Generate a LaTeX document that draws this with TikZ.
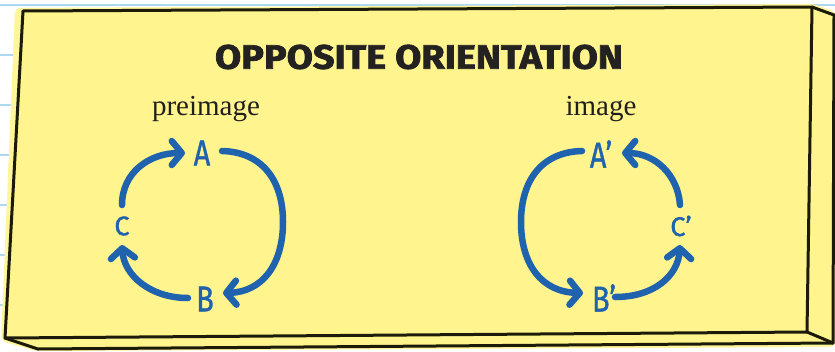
\documentclass[tikz,border=0pt]{standalone}
\usepackage{fontspec}
\setmainfont{Liberation Serif}
\newfontfamily\titlefont[FakeBold=2]{Fira Sans}
\newfontfamily\letterfont[FakeBold=1.2]{Fira Sans}
\usetikzlibrary{arrows.meta}
\definecolor{paper}{HTML}{FFF48E}
\definecolor{halo}{HTML}{FFF59A}
\definecolor{edge}{HTML}{1C1A08}
\definecolor{ink}{HTML}{1F62AE}
\definecolor{rulecol}{HTML}{ADD9F0}
\definecolor{titleink}{HTML}{242220}
\tikzset{
  bgrule/.style={rulecol, line width=2.5pt},
  boxedge/.style={edge, line width=3pt, line join=round, line cap=round},
  lbl/.style={inner sep=0pt, anchor=base, font=\fontsize{29}{31}\selectfont, text=titleink!90!black},
  pt/.style={inner sep=0pt, text=ink, font=\letterfont\fontsize{36}{38}\selectfont, xscale=0.8},
  smallpt/.style={inner sep=0pt, text=ink, font=\letterfont\fontsize{27}{29}\selectfont},
  arc/.style={ink, line width=6.5pt, line cap=round, -{Straight Barb[length=10pt,width=24pt,round]}}
}
\begin{document}
\begin{tikzpicture}[x=1pt,y=-1pt]
\useasboundingbox (0,0) rectangle (835,351);
\fill[white] (0,0) rectangle (835,351);
% notebook rules
\draw[bgrule] (0,5) -- (835,5);
\foreach \yy in {55,105,155,205,255,305} \draw[bgrule] (0,\yy) -- (40,\yy);
% sticky box
\fill[halo, rounded corners=5pt] (15,8) -- (813,4) -- (836,12) -- (835,347) -- (36,351) -- (1,341) -- cycle;
\fill[paper] (23,11) -- (812,7) -- (834,15) -- (833,343) -- (38,349) -- (5,338) -- cycle;
\draw[boxedge] (23,11) -- (812,7) -- (807,332) -- (5,338) -- cycle;
\draw[boxedge] (812,7) -- (834,15) -- (833,343) -- (807,332);
\draw[boxedge] (5,338) -- (38,349) -- (833,343);
% title
\node[inner sep=0pt, text=titleink] (title) at (419,57)
  {\resizebox{408pt}{24pt}{\titlefont\bfseries OPPOSITE ORIENTATION}};
\node[lbl] (pre) at (206,115) {preimage};
\node[lbl] (img) at (601,115) {image};
% preimage points
\node[pt] (A) at (202,153) {A};
\node[pt] (B) at (205,299) {B};
\node[smallpt] (C) at (122,226) {C};
% image points
\node[pt] (A2) at (601,154) {A’};
\node[pt] (B2) at (604,298) {B’};
\node[smallpt] (C2) at (681,226) {C’};
% arc end coordinates
\coordinate (ca) at (122,205);  \coordinate (ac) at (185,153);
\coordinate (ab) at (222,151);  \coordinate (ba) at (223,293);
\coordinate (bc) at (188,298);  \coordinate (cb) at (122,245);
\coordinate (a2b) at (582,151); \coordinate (b2a) at (583,293);
\coordinate (b2c) at (615,297); \coordinate (c2b) at (680,245);
\coordinate (c2a) at (680,205); \coordinate (a2c) at (622,153);
% preimage arcs
\draw[arc] (ca) .. controls (122,172) and (150,153) .. (ac);
\draw[arc] (ab) .. controls (262,152) and (283,180) .. (283,222)
               .. controls (283,265) and (262,292) .. (ba);
\draw[arc] (bc) .. controls (150,298) and (124,275) .. (cb);
% image arcs
\draw[arc] (a2b) .. controls (542,152) and (521,180) .. (521,222)
                 .. controls (521,265) and (542,292) .. (b2a);
\draw[arc] (b2c) .. controls (655,297) and (678,275) .. (c2b);
\draw[arc] (c2a) .. controls (678,175) and (655,153) .. (a2c);
\end{tikzpicture}
\end{document}
